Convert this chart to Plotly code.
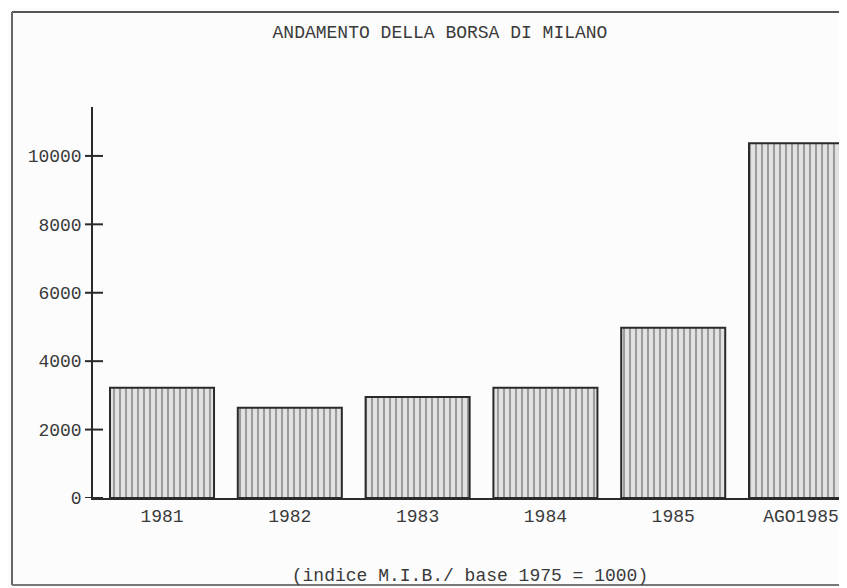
import plotly.graph_objects as go

categories = ["1981", "1982", "1983", "1984", "1985", "AGO1985"]
values = [3220, 2640, 2950, 3225, 4980, 10370]
y_ticks = [0, 2000, 4000, 6000, 8000, 10000]
title_text = "ANDAMENTO DELLA BORSA DI MILANO"
subtitle_text = "(indice M.I.B./ base 1975 = 1000)"

# the page body adds an 8px offset, so the figure is sized to fill the window
OFF = 8
W, H = 847 - OFF, 588 - OFF
ML, MR, MT, MB = 93 - OFF, 0, 107 - OFF, 588 - 498
PW, PH = W - ML - MR, H - MT - MB

FONT = dict(family="Liberation Mono, DejaVu Sans Mono, monospace", size=18, color="#3a3a3a")
INK = "#2a2a2a"

x_pos = list(range(len(categories)))

fig = go.Figure()
fig.add_trace(go.Bar(
    x=x_pos, y=values, width=0.814,
    marker=dict(
        color="#e0e0e0",
        line=dict(color=INK, width=2),
        pattern=dict(shape="|", size=6, solidity=0.35, fgcolor="#555555", bgcolor="#e2e2e2"),
    ),
    hoverinfo="skip",
))

def px_x(px):  # screen px -> paper x
    return (px - OFF - ML) / PW

def px_y(py):  # screen px -> paper y
    return (H - MB - (py - OFF)) / PH

shapes = []
for t in y_ticks:
    shapes.append(dict(type="line", xref="paper", yref="y",
                       x0=px_x(85), x1=px_x(103), y0=t, y1=t,
                       line=dict(color=INK, width=2)))
shapes.append(dict(type="line", xref="paper", yref="paper",
                   x0=px_x(12), x1=px_x(860), y0=px_y(12), y1=px_y(12),
                   line=dict(color="#555555", width=2)))
shapes.append(dict(type="line", xref="paper", yref="paper",
                   x0=px_x(12), x1=px_x(12), y0=px_y(12), y1=px_y(585),
                   line=dict(color="#666666", width=2)))
shapes.append(dict(type="line", xref="paper", yref="paper",
                   x0=px_x(12), x1=px_x(860), y0=px_y(585), y1=px_y(585),
                   line=dict(color="#777777", width=2)))

fig.update_layout(
    width=W, height=H,
    margin=dict(l=ML, r=MR, t=MT, b=MB),
    paper_bgcolor="#fcfcfc", plot_bgcolor="#fcfcfc",
    showlegend=False,
    font=FONT,
    title=dict(text=title_text, x=(440 - OFF) / W, xanchor="center",
               y=1 - (32 - OFF) / H, yanchor="middle", yref="container", font=FONT),
    shapes=shapes,
)
fig.update_xaxes(
    range=[-0.54, -0.54 + PW / 127.8],
    tickmode="array", tickvals=x_pos, ticktext=categories,
    showgrid=False, zeroline=False,
    showline=True, linecolor=INK, linewidth=2,
    ticks="", ticklabelstandoff=0,
    title=dict(text=subtitle_text, font=FONT, standoff=43),
    fixedrange=True,
)
fig.update_yaxes(
    range=[0, 11430],
    tickmode="array", tickvals=y_ticks, ticktext=[str(v) for v in y_ticks],
    showgrid=False, zeroline=False,
    showline=True, linecolor=INK, linewidth=1.5,
    ticks="", ticklabelstandoff=6,
    fixedrange=True,
)

fig.write_html("out.html")
